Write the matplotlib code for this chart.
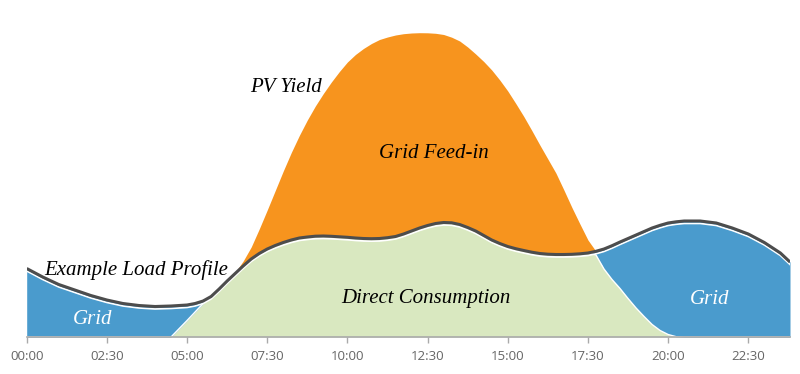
"""
Daily PV yield vs. an example household load profile: direct consumption,
grid feed-in and grid draw, drawn as stacked areas.
Values are in tenths of the chart height (no y axis shown).
"""
import matplotlib.pyplot as plt
import numpy as np

# half-hourly at night, quarter-hourly while the sun is up
HOURS = [0.0, 0.5, 1.0, 1.5, 2.0, 2.5, 3.0, 3.5, 4.0, 4.5, 5.0, 5.25, 5.5, 5.75,
         6.0, 6.25, 6.5, 6.75, 7.0, 7.25, 7.5, 7.75, 8.0, 8.25, 8.5, 8.75,
         9.0, 9.25, 9.5, 9.75, 10.0, 10.25, 10.5, 10.75, 11.0, 11.25, 11.5, 11.75,
         12.0, 12.25, 12.5, 12.75, 13.0, 13.25, 13.5, 13.75, 14.0, 14.25, 14.5, 14.75,
         15.0, 15.25, 15.5, 15.75, 16.0, 16.25, 16.5, 16.75, 17.0, 17.25, 17.5, 17.75,
         18.0, 18.25, 18.5, 18.75, 19.0, 19.25, 19.5, 19.75, 20.0, 20.25, 20.5,
         21.0, 21.5, 22.0, 22.5, 23.0, 23.5, 23.8]

LOAD = [6.85, 6.0, 5.25, 4.7, 4.15, 3.7, 3.35, 3.15, 3.05, 3.1, 3.2, 3.35, 3.6, 4.05,
        4.8, 5.6, 6.35, 7.1, 7.8, 8.35, 8.8, 9.15, 9.45, 9.7, 9.9, 10.0,
        10.08, 10.1, 10.07, 10.02, 9.97, 9.9, 9.85, 9.83, 9.85, 9.93, 10.05, 10.3,
        10.6, 10.9, 11.15, 11.35, 11.45, 11.42, 11.25, 10.95, 10.6, 10.15, 9.7, 9.35,
        9.05, 8.83, 8.65, 8.48, 8.35, 8.28, 8.25, 8.25, 8.27, 8.32, 8.4, 8.57,
        8.8, 9.13, 9.5, 9.85, 10.2, 10.55, 10.9, 11.17, 11.4, 11.52, 11.6,
        11.6, 11.4, 10.9, 10.3, 9.45, 8.4, 7.5]

PV = [0.0, 0.0, 0.0, 0.0, 0.0, 0.0, 0.0, 0.0, 0.0, 0.0, 1.65, 2.5, 3.35, 4.1,
      4.9, 5.65, 6.45, 7.6, 9.0, 10.8, 12.7, 14.65, 16.6, 18.45, 20.15, 21.7,
      23.1, 24.35, 25.5, 26.55, 27.5, 28.25, 28.85, 29.35, 29.75, 30.0, 30.2, 30.33,
      30.4, 30.43, 30.42, 30.37, 30.25, 29.98, 29.6, 29.0, 28.3, 27.55, 26.7, 25.7,
      24.6, 23.35, 22.05, 20.65, 19.2, 17.8, 16.4, 14.7, 12.95, 11.3, 9.7, 8.2,
      6.8, 5.75, 4.85, 3.85, 2.9, 2.05, 1.25, 0.65, 0.25, 0.03, 0.0,
      0.0, 0.0, 0.0, 0.0, 0.0, 0.0, 0.0]

TICK_HOURS = [0, 2.5, 5, 7.5, 10, 12.5, 15, 17.5, 20, 22.5]
TICK_LABELS = ["00:00", "02:30", "05:00", "07:30", "10:00",
               "12:30", "15:00", "17:30", "20:00", "22:30"]

BLUE = "#4a9bcd"
ORANGE = "#f7941e"
GREEN = "#d9e8c0"
LINE = "#4d4d4d"

x = np.array(HOURS)
load = np.array(LOAD)
pv = np.array(PV)
direct = np.minimum(load, pv)

fig = plt.figure(figsize=(8, 3.74), dpi=100)
ax = fig.add_axes([26.7 / 800, 37 / 374, 763.3 / 800, 337 / 374])

ax.fill_between(x, 0, direct, color=GREEN, lw=0)
ax.fill_between(x, direct, load, color=BLUE, lw=0)
ax.fill_between(x, load, np.maximum(load, pv), color=ORANGE, lw=0)
ax.plot(x, direct, color="white", lw=1.0)
ax.plot(x, load - 0.25, color="white", lw=1.2)
ax.plot(x, load, color=LINE, lw=2.2, solid_capstyle="butt")

ax.set_xlim(0, 23.8)
ax.set_ylim(0, 33.7)

for side in ["top", "right", "left"]:
    ax.spines[side].set_visible(False)
ax.spines["bottom"].set_color("#aaaaaa")
ax.spines["bottom"].set_linewidth(1.2)
ax.set_yticks([])
ax.set_xticks(TICK_HOURS)
ax.set_xticklabels(TICK_LABELS, fontfamily="Open Sans", fontsize=9.5, color="#666666")
ax.tick_params(axis="x", length=4, width=1, color="#aaaaaa", pad=5)

label_font = dict(family="Liberation Serif", style="italic", fontsize=15)
ax.text(8.1, 25.0, "PV Yield", ha="center", va="center", color="black", **label_font)
ax.text(12.7, 18.4, "Grid Feed-in", ha="center", va="center", color="black", **label_font)
ax.text(0.55, 6.7, "Example Load Profile", ha="left", va="center", color="black", **label_font)
ax.text(12.45, 3.8, "Direct Consumption", ha="center", va="center", color="black", **label_font)
ax.text(2.05, 1.7, "Grid", ha="center", va="center", color="white", **label_font)
ax.text(21.3, 3.7, "Grid", ha="center", va="center", color="white", **label_font)

fig.savefig("out.png", dpi=100)
